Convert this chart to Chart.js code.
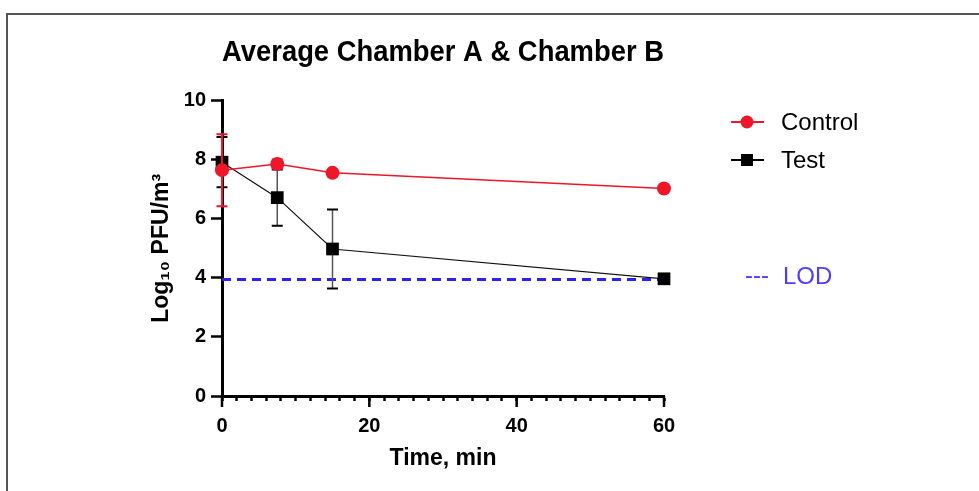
<!DOCTYPE html>
<html>
<head>
<meta charset="utf-8">
<script src="https://cdn.jsdelivr.net/npm/chart.js@4"></script>
<style>
  body { margin: 0; background: #fff; overflow: hidden; }
  #wrap { position: relative; width: 979px; height: 491px; }
  #marco { position: absolute; left: 6px; top: 13px; right: -10px; bottom: -10px;
           border-left: 2px solid #555; border-top: 2px solid #555; }
  canvas { position: absolute; left: 0; top: 0; }
</style>
</head>
<body>
<div id="wrap">
  <div id="marco"></div>
  <canvas id="grafico" width="979" height="491"></canvas>
</div>
<script>
// datos
const tiempos = [0, 7.5, 15, 60];
const controlMedia = [7.65, 7.86, 7.56, 7.03];
const controlError = [1.22, 0.15, 0, 0];
const testMedia = [7.92, 6.72, 4.98, 3.97];
const testError = [0.85, 0.95, 1.34, 0];
const valorLOD = 3.95;
const etiquetasX = [0, 20, 40, 60];
const etiquetasY = [0, 2, 4, 6, 8, 10];
const nombres = ['Control', 'Test', 'LOD'];

const rojo = 'rgb(238, 22, 40)';
const azulLinea = '#2a22ee';
const azulTexto = '#4f3cff';
const fuente = "'Liberation Sans', Arial, Helvetica, sans-serif";

Chart.defaults.font.family = fuente;
Chart.defaults.color = '#000';

function puntos(medias) {
    return tiempos.map((t, i) => ({ x: t, y: medias[i] }));
}

// barras de error dibujadas antes de cada serie
const barrasError = {
    id: 'barrasError',
    beforeDatasetDraw(chart, args) {
        const ds = chart.data.datasets[args.index];
        if (!ds.errores) return;
        const ctx = chart.ctx;
        const x = chart.scales.x;
        const y = chart.scales.y;
        ctx.save();
        ds.errores.forEach((e, i) => {
            if (!e) return;
            const px = x.getPixelForValue(tiempos[i]);
            const arriba = y.getPixelForValue(ds.data[i].y + e);
            const abajo = y.getPixelForValue(ds.data[i].y - e);
            ctx.strokeStyle = ds.colorError;
            ctx.lineWidth = ds.anchoError;
            ctx.beginPath();
            ctx.moveTo(px, arriba);
            ctx.lineTo(px, abajo);
            ctx.stroke();
            ctx.strokeStyle = ds.colorTapa;
            ctx.lineWidth = 2;
            ctx.beginPath();
            ctx.moveTo(px - 5.5, arriba);
            ctx.lineTo(px + 5.5, arriba);
            ctx.moveTo(px - 5.5, abajo);
            ctx.lineTo(px + 5.5, abajo);
            ctx.stroke();
        });
        ctx.restore();
    }
};

// marcas mayores del eje x y leyenda a la derecha
const extras = {
    id: 'extras',
    afterDraw(chart) {
        const ctx = chart.ctx;
        const x = chart.scales.x;
        const abajo = chart.chartArea.bottom;
        ctx.save();
        ctx.strokeStyle = '#000';
        ctx.lineWidth = 2.5;
        ctx.beginPath();
        etiquetasX.forEach(v => {
            const px = x.getPixelForValue(v);
            ctx.moveTo(px, abajo);
            ctx.lineTo(px, abajo + 11);
        });
        ctx.stroke();

        // leyenda
        ctx.font = '24px ' + fuente;
        ctx.textBaseline = 'middle';
        ctx.textAlign = 'left';

        ctx.strokeStyle = rojo;
        ctx.lineWidth = 2;
        ctx.beginPath();
        ctx.moveTo(731, 122);
        ctx.lineTo(764, 122);
        ctx.stroke();
        ctx.fillStyle = rojo;
        ctx.beginPath();
        ctx.arc(747, 122, 6.5, 0, Math.PI * 2);
        ctx.fill();
        ctx.fillStyle = '#000';
        ctx.fillText(nombres[0], 781, 123);

        ctx.strokeStyle = '#000';
        ctx.beginPath();
        ctx.moveTo(731, 160);
        ctx.lineTo(764, 160);
        ctx.stroke();
        ctx.fillRect(741, 154, 12, 12);
        ctx.fillText(nombres[1], 781, 161);

        ctx.fillStyle = azulTexto;
        ctx.fillText('---', 745, 276);
        ctx.fillText(nombres[2], 783, 277);
        ctx.restore();
    }
};

const ctx = document.getElementById('grafico').getContext('2d');
new Chart(ctx, {
    type: 'line',
    data: {
        datasets: [
            {
                label: nombres[0],
                data: puntos(controlMedia),
                errores: controlError,
                colorError: rojo,
                colorTapa: rojo,
                anchoError: 2,
                borderColor: rojo,
                backgroundColor: rojo,
                borderWidth: 1.5,
                pointStyle: 'circle',
                pointRadius: 7,
                pointBorderWidth: 0,
                clip: false
            },
            {
                label: nombres[1],
                data: puntos(testMedia),
                errores: testError,
                colorError: '#555',
                colorTapa: '#000',
                anchoError: 1.5,
                borderColor: '#111',
                backgroundColor: '#000',
                borderWidth: 1.2,
                pointStyle: 'rect',
                pointRadius: 9,
                pointBorderWidth: 0,
                clip: false
            },
            {
                label: nombres[2],
                data: [{ x: etiquetasX[0], y: valorLOD }, { x: etiquetasX[etiquetasX.length - 1], y: valorLOD }],
                borderColor: azulLinea,
                borderWidth: 3,
                borderDash: [9, 6],
                pointRadius: 0,
                clip: false
            }
        ]
    },
    options: {
        responsive: false,
        animation: false,
        devicePixelRatio: 1,
        layout: { padding: { left: 140, right: 315, top: 0, bottom: 0 } },
        plugins: {
            legend: { display: false },
            tooltip: { enabled: false },
            title: {
                display: true,
                text: 'Average Chamber A & Chamber B',
                fullSize: false,
                color: '#000',
                font: { size: 29, weight: 'bold' },
                padding: { top: 36, bottom: 30 }
            }
        },
        scales: {
            x: {
                type: 'linear',
                min: 0,
                max: 60,
                afterFit(scale) { scale.height = 95; },
                border: { color: '#000', width: 3 },
                grid: { drawOnChartArea: false, tickLength: 5, tickWidth: 2.5, tickColor: '#000' },
                ticks: {
                    stepSize: 2,
                    autoSkip: false,
                    maxRotation: 0,
                    padding: 13,
                    color: '#000',
                    font: { size: 20, weight: 'bold' },
                    callback: v => etiquetasX.includes(v) ? v : ''
                },
                title: {
                    display: true,
                    text: 'Time, min',
                    color: '#000',
                    font: { size: 23, weight: 'bold' },
                    padding: { top: 0, bottom: 19 }
                }
            },
            y: {
                min: etiquetasY[0],
                max: etiquetasY[etiquetasY.length - 1],
                afterFit(scale) { scale.width = 82; },
                border: { color: '#000', width: 3 },
                grid: { drawOnChartArea: false, tickLength: 11, tickWidth: 2.5, tickColor: '#000' },
                ticks: {
                    stepSize: 2,
                    padding: 5,
                    color: '#000',
                    font: { size: 20, weight: 'bold' }
                },
                title: {
                    display: true,
                    text: 'Log₁₀ PFU/m³',
                    color: '#000',
                    font: { size: 23, weight: 'bold' },
                    padding: { top: 8, bottom: 0 }
                }
            }
        }
    },
    plugins: [barrasError, extras]
});
</script>
</body>
</html>
